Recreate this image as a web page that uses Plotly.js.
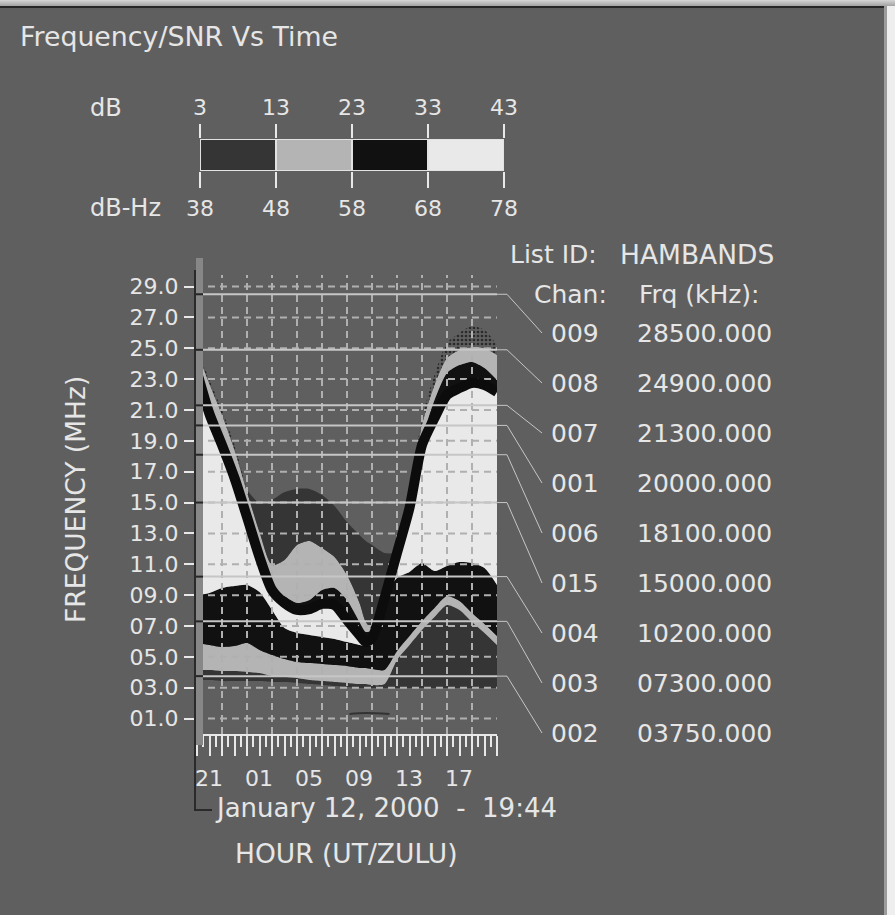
<!DOCTYPE html>
<html><head><meta charset="utf-8">
<script src="https://cdn.plot.ly/plotly-3.0.1.min.js"></script>
<style>
html,body{margin:0;padding:0;background:#ffffff;}
#wrap{position:relative;width:895px;height:915px;overflow:hidden;}
#chart{position:absolute;left:0;top:0;width:895px;height:915px;}
.fr{position:absolute;pointer-events:none;}
</style></head><body>
<div id="wrap"><div id="chart"></div>
<div class="fr" style="left:0;top:0;width:895px;height:6px;background:linear-gradient(#d6d6d6,#a2a2a2);"></div>
<div class="fr" style="left:0;top:6px;width:885px;height:2px;background:#262626;"></div>
<div class="fr" style="left:884px;top:6px;width:3px;height:909px;background:#9c9c9c;"></div>
<div class="fr" style="left:887px;top:6px;width:8px;height:909px;background:#eeeeee;"></div>
</div>
<script>
// ---------- data ----------
const hours = [0,1,2,3,4,5,6,7,8,9,10,11,12,13,13.5,14,15,16,17,18,19,20,21,22,23,24];
const hourLabels = ['21','01','05','09','13','17'];
const freqTicks = [1,3,5,7,9,11,13,15,17,19,21,23,25,27,29];
const freqTickText = ['01.0','03.0','05.0','07.0','09.0','11.0','13.0','15.0','17.0','19.0','21.0','23.0','25.0','27.0','29.0'];
const gridHours = [2,4,6,8,10,12,14,16,18,20,22];

const dbTicks = [3,13,23,33,43];
const dbHzTicks = [38,48,58,68,78];
const snrColors = ['#353535','#b4b4b4','#111111','#e9e9e9'];

// SNR band boundaries (MHz) at each hour
const mufCurve       = [23.46,20.74,18.73,16.59,14.06,11.47,9.33,8.49,8.04,8.10,8.43,8.36,7.39,6.42,5.96,6.22,8.81,11.73,14.65,18.73,20.48,21.97,22.42,22.75,22.62,22.16];
const upperBlackTop  = [23.46,20.74,18.73,16.59,14.06,11.47,9.66,8.94,8.49,8.68,9.33,9.46,8.68,7.26,6.61,6.74,8.81,11.73,14.78,19.05,21.65,23.40,23.91,24.11,23.72,22.94];
const upperGrayTop   = [24.76,22.68,20.67,18.41,15.68,13.09,10.95,11.28,12.25,12.51,12.05,11.47,10.30,8.49,7.26,6.87,8.81,11.73,15.17,20.03,22.62,24.37,24.89,25.08,25.02,24.56];
const upperDarkTop   = [25.02,22.94,21.00,18.73,15.81,14.97,15.17,15.68,15.88,15.88,15.49,14.78,13.74,12.90,12.51,12.25,11.73,11.73,15.49,20.48,23.27,25.34,25.99,26.44,26.18,25.21];
const lowerBlackTop  = [9.01,9.14,9.46,9.59,9.66,9.20,8.04,6.87,6.55,6.42,6.29,6.16,5.96,5.77,5.70,5.77,8.81,10.11,10.50,11.08,10.56,10.89,11.15,11.08,10.76,9.66];
const lowerGrayTop   = [5.90,5.77,5.64,5.70,5.90,5.44,5.12,4.86,4.67,4.60,4.54,4.47,4.41,4.28,4.28,4.21,4.15,5.38,6.35,7.32,8.17,8.94,8.62,7.84,7.13,6.35];
const lowerDarkTop   = [4.15,4.15,4.08,4.08,4.02,3.95,3.76,3.69,3.63,3.50,3.43,3.37,3.31,3.24,3.24,3.18,3.24,4.80,5.77,6.74,7.58,8.36,8.04,7.26,6.55,5.77];
const lowerDarkBottom= [3.50,3.50,3.43,3.43,3.43,3.43,3.37,3.37,3.31,3.24,3.18,3.11,3.05,2.98,2.98,2.98,2.98,2.98,2.98,2.98,2.98,2.98,2.98,2.98,2.98,2.98];
const weakHours = [12.2,13.5,15.4];
const weakFreq  = [1.30,1.36,1.30];

const chanIds   = ['009','008','007','001','006','015','004','003','002'];
const chanKHz   = [28500,24900,21300,20000,18100,15000,10200,7300,3750];

// ---------- helpers ----------
const W = 895, H = 915;
const P = x => x / W, Q = y => 1 - y / H;
const FONT = 'DejaVu Sans', TXT = '#e6e6e6';
const yRange = [0, 30.85];
const plotTop = 258, plotBot = 734;
const fAtPx = py => yRange[0] + (plotBot - py) / (plotBot - plotTop) * (yRange[1] - yRange[0]);
const maxOf = (a, b) => a.map((v, i) => Math.max(v, b[i]));

const l1 = maxOf(lowerDarkTop, lowerDarkBottom);
const l2 = maxOf(lowerGrayTop, l1);
const l3 = maxOf(lowerBlackTop, l2);
const wt = maxOf(mufCurve, l3);
const u1 = maxOf(upperBlackTop, wt);
const u2 = maxOf(upperGrayTop, u1);
const u3 = maxOf(upperDarkTop, u2);

const traces = [];
const LN = {width: 0, shape: 'spline', smoothing: 0.7};
function band(lower, upper, color, i0, i1, pattern) {
  const xs = hours.slice(i0, i1 + 1);
  traces.push({x: xs, y: lower.slice(i0, i1 + 1), mode: 'lines', line: LN, hoverinfo: 'skip'});
  const t = {x: xs, y: upper.slice(i0, i1 + 1), mode: 'lines', line: LN, fill: 'tonexty', fillcolor: color, hoverinfo: 'skip'};
  if (pattern) t.fillpattern = pattern;
  traces.push(t);
}
const N = hours.length - 1;
const dots = {shape: '.', fgcolor: '#2a2a2a', bgcolor: '#5f5f5f', size: 4, solidity: 0.35};
band(lowerDarkBottom, l1, snrColors[0], 0, N);
band(l1, l2, snrColors[1], 0, N);
band(l2, l3, snrColors[2], 0, N);
band(l3, wt, snrColors[3], 0, N);
band(wt, u1, snrColors[2], 0, N);
band(u1, u2, snrColors[1], 0, N);
band(u2, u3, snrColors[0], 4, 17);
band(u2, u3, '#5f5f5f', 0, 4, dots);
band(u2, u3, '#5f5f5f', 17, N, dots);

// grid (dashed) drawn above the fills
const gx = [], gy = [];
freqTicks.forEach(f => { gx.push(0.88, 24, null); gy.push(f, f, null); });
gridHours.forEach(h => { gx.push(h, h, null); gy.push(0, 29.75, null); });
traces.push({x: gx, y: gy, mode: 'lines', connectgaps: false, line: {color: '#b0b0b0', width: 2, dash: '7px,5px'}, hoverinfo: 'skip'});
traces.push({x: weakHours, y: weakFreq, mode: 'lines', line: {color: '#333333', width: 2, shape: 'spline'}, hoverinfo: 'skip'});
traces.push({x: hours, y: mufCurve, mode: 'lines', line: {color: '#0c0c0c', width: 10, shape: 'spline', smoothing: 0.7}, hoverinfo: 'skip'});

// colour key
const keyCenters = dbTicks.slice(0, -1).map((v, i) => (v + dbTicks[i + 1]) / 2);
traces.push({type: 'bar', x: keyCenters, y: keyCenters.map(() => 1), width: 10, xaxis: 'x2', yaxis: 'y2',
  cliponaxis: false, marker: {color: snrColors, line: {color: '#e2e2e2', width: 2}}, hoverinfo: 'skip'});
// second (dB-Hz) scale of the key shares the bars, placed on the overlaid axis
traces.push({type: 'scatter', x: dbHzTicks, y: dbHzTicks.map(() => -5), xaxis: 'x3', yaxis: 'y2',
  mode: 'markers', marker: {size: 1, opacity: 0}, hoverinfo: 'skip', cliponaxis: true});

// ---------- shapes ----------
const shapes = [];
shapes.push({type: 'rect', xref: 'paper', yref: 'paper', x0: P(196), x1: P(203), y0: Q(745), y1: Q(258),
  fillcolor: '#878787', line: {width: 0}, layer: 'above'});
chanKHz.forEach((k, i) => {
  const f = k / 1000;
  const fl = fAtPx(333 + 50 * i);
  shapes.push({type: 'line', xref: 'paper', yref: 'y', x0: P(203), x1: P(497), y0: f, y1: f,
    line: {color: '#c6c6c6', width: 2}, layer: 'above'});
  shapes.push({type: 'line', xref: 'paper', yref: 'y', x0: P(195), x1: P(203), y0: f, y1: f,
    line: {color: '#262626', width: 2}, layer: 'above'});
  shapes.push({type: 'path', xref: 'paper', yref: 'y',
    path: `M ${P(497)},${f} L ${P(507)},${f} L ${P(542)},${fl}`,
    line: {color: '#c6c6c6', width: 1}, layer: 'above'});
});
shapes.push({type: 'path', xref: 'paper', yref: 'paper',
  path: `M ${P(195)},${Q(270)} L ${P(195)},${Q(810)} L ${P(212)},${Q(810)}`,
  line: {color: '#2a2a2a', width: 2}, layer: 'above'});

// ---------- annotations ----------
const ann = [];
function A(text, x, y, opt) {
  ann.push(Object.assign({text, x: P(x), y: Q(y), xref: 'paper', yref: 'paper', showarrow: false,
    xanchor: 'left', yanchor: 'middle', font: {family: FONT, size: 25, color: TXT}}, opt || {}));
}
const sp = '\u00a0';
A('dB', 88, 108, {font: {family: FONT, size: 24, color: TXT}});
A('dB-Hz', 88, 208, {font: {family: FONT, size: 24, color: TXT}});
A('List ID:', 508, 255);
A('HAMBANDS', 618, 255, {font: {family: FONT, size: 26.5, color: TXT}});
A('Chan:', 532, 294);
A('Frq (kHz):', 637, 294);
chanIds.forEach((c, i) => {
  A(c, 549, 333 + 50 * i);
  A(String(chanKHz[i].toFixed(3)).padStart(9, '0'), 774, 333 + 50 * i, {xanchor: 'right'});
});
A('January 12, 2000' + sp + sp + '-' + sp + sp + '19:44', 213, 808, {font: {family: FONT, size: 26, color: TXT}});
A('HOUR (UT/ZULU)', 233, 853, {font: {family: FONT, size: 26.5, color: TXT}});
A('FREQUENCY (MHz)', 75, 500, {xanchor: 'center', textangle: -90, font: {family: FONT, size: 26.5, color: TXT}});

// ---------- layout ----------
const hourTickVals = [];
const hourTickText = [];
for (let h = 0; h <= 24; h++) { hourTickVals.push(h); hourTickText.push(h % 4 === 0 && h < 24 ? hourLabels[h / 4] : ''); }
const tickF = {family: FONT, size: 22, color: TXT};

const layout = {
  width: W, height: H, margin: {l: 0, r: 0, t: 0, b: 0, pad: 0},
  paper_bgcolor: '#5f5f5f', plot_bgcolor: '#5f5f5f', showlegend: false,
  title: {text: 'Frequency/SNR Vs Time', x: P(20), xanchor: 'left', xref: 'paper', y: Q(37), yref: 'paper', yanchor: 'middle',
    font: {family: FONT, size: 26.8, color: TXT}},
  bargap: 0,
  xaxis: {domain: [P(196), P(497)], range: [-0.08, 24], anchor: 'y', showgrid: false, zeroline: false,
    showline: true, linecolor: '#e8e8e8', linewidth: 2,
    tickmode: 'array', tickvals: hourTickVals, ticktext: hourTickText, ticks: 'outside', ticklen: 20, tickwidth: 2, tickcolor: '#e8e8e8',
    minor: {ticks: 'outside', tickmode: 'linear', tick0: 0, dtick: 0.5, ticklen: 11, tickwidth: 2, tickcolor: '#e8e8e8'},
    ticklabelshift: 12, ticklabelstandoff: 4, tickfont: tickF, fixedrange: true},
  yaxis: {domain: [Q(plotBot), Q(plotTop)], range: yRange, anchor: 'x', showgrid: false, zeroline: false, showline: false,
    tickmode: 'array', tickvals: freqTicks, ticktext: freqTickText, ticks: 'outside', ticklen: 11, tickwidth: 2, tickcolor: '#e8e8e8',
    ticklabelstandoff: 1, tickfont: tickF, fixedrange: true},
  xaxis2: {domain: [P(200), P(504)], range: [3, 43], anchor: 'y2', side: 'top', showgrid: false, zeroline: false, showline: false,
    tickmode: 'array', tickvals: dbTicks, ticks: 'outside', ticklen: 14, tickwidth: 2, tickcolor: '#e8e8e8',
    ticklabelstandoff: 0, tickfont: tickF, fixedrange: true},
  xaxis3: {overlaying: 'x2', anchor: 'y2', side: 'bottom', range: [38, 78], showgrid: false, zeroline: false, showline: false,
    tickmode: 'array', tickvals: dbHzTicks, ticks: 'outside', ticklen: 16, tickwidth: 2, tickcolor: '#e8e8e8',
    ticklabelstandoff: 2, tickfont: tickF, fixedrange: true},
  yaxis2: {domain: [Q(171), Q(139)], range: [0, 1], anchor: 'x2', visible: false, fixedrange: true},
  shapes: shapes, annotations: ann
};
Plotly.newPlot('chart', traces, layout, {staticPlot: true, displayModeBar: false});
</script>
</body></html>
